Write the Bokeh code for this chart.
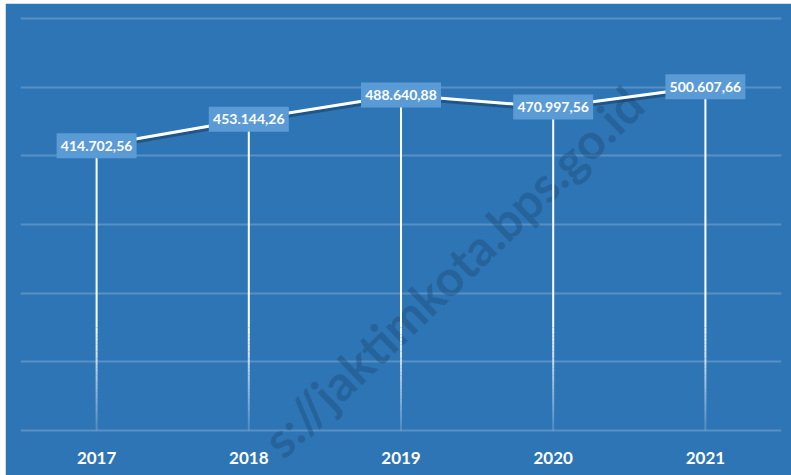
from bokeh.plotting import figure
from bokeh.models import FixedTicker, Label, Range1d
from bokeh.core.properties import value
from bokeh.embed import file_html
from bokeh.resources import INLINE

years = ["2017", "2018", "2019", "2020", "2021"]
values = [414702.56, 453144.26, 488640.88, 470997.56, 500607.66]
y_ticks = [0, 100000, 200000, 300000, 400000, 500000, 600000]
watermark = "s://jaktimkota.bps.go.id"


def fmt(v):
    s = f"{v:,.2f}"
    return s.replace(",", "X").replace(".", ",").replace("X", ".")


labels = [fmt(v) for v in values]

BG = "#2E75B6"
W, H = 786, 472
TOP, LEFT, RIGHT = 10, 15, 10
PAD_TOP = 5           # pixels between frame top and the top grid line
AXIS_PX = 45          # pixels below the zero line used for the year labels
YEAR_PX = 27          # year label centre below the zero line
y_max = y_ticks[-1]
plot_px = H - TOP - PAD_TOP - AXIS_PX
px = y_max / plot_px  # data units per pixel

p = figure(x_range=years, y_range=Range1d(-AXIS_PX * px, y_max + PAD_TOP * px),
           width=W, height=H, output_backend="svg", toolbar_location=None,
           x_axis_location=None, y_axis_location=None,
           min_border_left=LEFT, min_border_right=RIGHT,
           min_border_top=TOP, min_border_bottom=0)
p.margin = (3, 0, 0, 5)
p.background_fill_color = BG
p.border_fill_color = BG
p.outline_line_color = BG
p.outline_line_width = 3
p.xgrid.visible = False
p.ygrid.ticker = FixedTicker(ticks=y_ticks)
p.ygrid.grid_line_color = "white"
p.ygrid.grid_line_alpha = 0.2
p.ygrid.grid_line_width = 2

# watermark (anchored at its right end, screen units from the frame's lower-left)
wm = Label(x=614, y=380, x_units="screen", y_units="screen", text=watermark,
           angle=44, angle_units="deg", text_align="right", text_baseline="middle",
           text_font="Lato", text_font_style="bold", text_font_size="49px",
           text_color="#1F4E79", text_alpha=0.45, level="underlay")
p.add_layout(wm)

# drop lines: solid part then fading part
fade_top = 150000
p.segment(x0=years, y0=values, x1=years, y1=[fade_top] * len(years),
          line_color="white", line_width=2)
N = 30
sx, sy0, sy1, sa = [], [], [], []
for yr in years:
    for i in range(N):
        sx.append(yr)
        sy0.append(fade_top * (1 - i / N))
        sy1.append(fade_top * (1 - (i + 1) / N))
        sa.append(1 - 0.85 * (i + 0.5) / N)
p.segment(x0=sx, y0=sy0, x1=sx, y1=sy1, line_color="white", line_width=2,
          line_alpha=sa, line_cap="butt")

# line shadow and line
off = 3 * px
p.line(x=years, y=[v - off for v in values], line_color="#163A63",
       line_width=3, line_alpha=0.55)
p.line(x=years, y=values, line_color="white", line_width=3)

# value labels
p.rect(x=years, y=values, width=80, height=25, width_units="screen",
       height_units="screen", fill_color="#5B9BD5", line_color=None)
p.text(x=years, y=values, text=labels, text_align="center",
       text_baseline="middle", text_font=value("Lato"),
       text_font_style="bold", text_font_size="14px", text_color="white")

# category (year) labels below the zero line
p.text(x=years, y=[-YEAR_PX * px] * len(years), text=years, text_align="center",
       text_baseline="middle", text_font=value("Lato"),
       text_font_style="bold", text_font_size="17px", text_color="white")

open("out.html", "w").write(file_html(p, INLINE))
